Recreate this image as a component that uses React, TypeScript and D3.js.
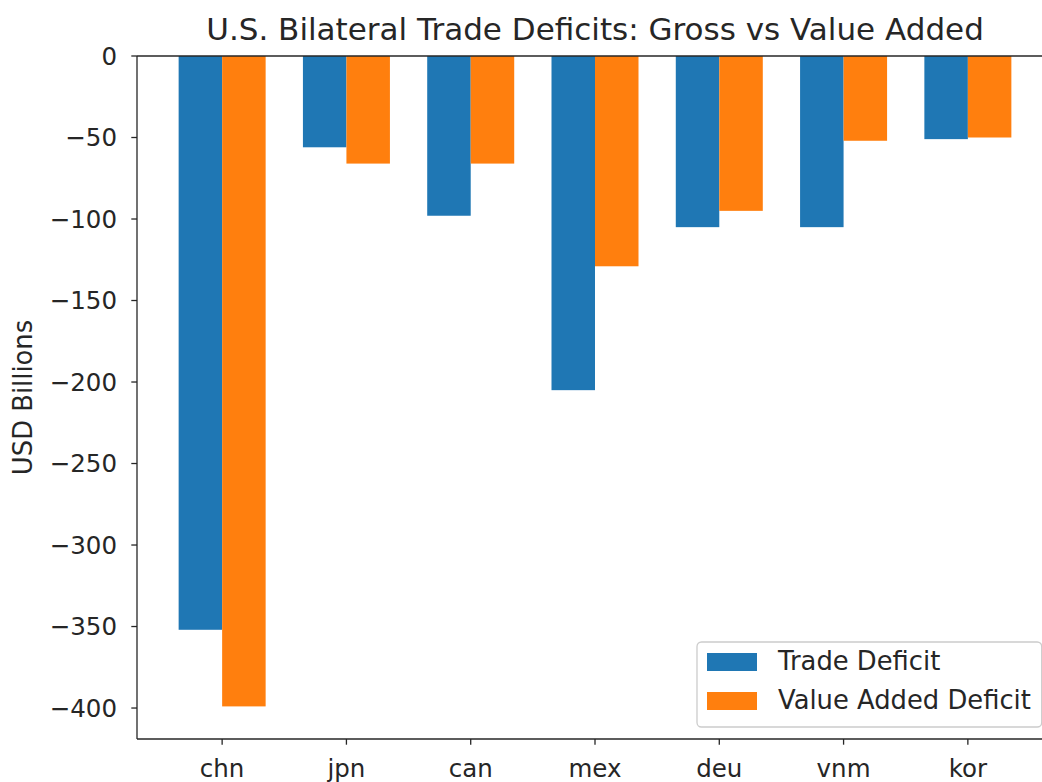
import React from "react";
import * as d3 from "d3";

const countries = ["chn", "jpn", "can", "mex", "deu", "vnm", "kor"];
const tradeDeficit = [-352, -56, -98, -205, -105, -105, -51];
const valueAddedDeficit = [-399, -66, -66, -129, -95, -52, -50];
const yTicks = [0, -50, -100, -150, -200, -250, -300, -350, -400];
const seriesNames = ["Trade Deficit", "Value Added Deficit"];
const seriesColors = ["#1f77b4", "#ff7f0e"];

const W = 1042;
const H = 782;
const left = 137;
const right = 1053;
const top = 56;
const bottom = 739;
const font = "'DejaVu Sans', sans-serif";
const fs = 25.8;
const tickFs = 24.5;
const titleFs = 31;
const ink = "#262626";
const barWidth = 0.35;

const fmt = (v: number) => (v < 0 ? "\u2212" + Math.abs(v) : String(v));

export default function App() {
  const n = countries.length;
  const pad = (n - 1 + 2 * barWidth) * 0.05 + barWidth;
  const x = d3.scaleLinear().domain([-pad, n - 1 + pad]).range([left, right]);
  const y = d3.scaleLinear().domain([-419, 0]).range([bottom, top]);
  const bw = x(barWidth) - x(0);
  const series = [tradeDeficit, valueAddedDeficit];

  const legX = 697;
  const legY = 642;
  const legW = right - 11.3 - legX;
  const legH = bottom - 12 - legY;

  return (
    <svg width={W} height={H} style={{ position: "absolute", left: 0, top: 0 }} fontFamily={font}>
      <rect width={W} height={H} fill="#fff" />
      {series.map((vals, s) =>
        vals.map((v, i) => {
          const cx = x(i) + (s === 0 ? -bw / 2 : bw / 2);
          return (
            <rect
              key={`${s}-${i}`}
              x={cx - bw / 2}
              y={y(0)}
              width={bw}
              height={y(v) - y(0)}
              fill={seriesColors[s]}
            />
          );
        })
      )}
      {/* spines */}
      <g stroke={ink} strokeWidth={1.3} fill="none">
        <line x1={left} x2={left} y1={top} y2={bottom} />
        <line x1={left} x2={right} y1={bottom} y2={bottom} />
        <line x1={left} x2={right} y1={top} y2={top} />
        <line x1={right} x2={right} y1={top} y2={bottom} />
      </g>
      {/* y axis */}
      {yTicks.map((t) => (
        <g key={t} transform={`translate(0,${y(t)})`}>
          <line x1={left - 5.7} x2={left} stroke={ink} strokeWidth={1.3} />
          <text x={left - 20} dy="0.36em" textAnchor="end" fontSize={tickFs} fill={ink}>
            {fmt(t)}
          </text>
        </g>
      ))}
      {/* x axis */}
      {countries.map((c, i) => (
        <g key={c} transform={`translate(${x(i)},${bottom})`}>
          <line y1={0} y2={5.7} stroke={ink} strokeWidth={1.3} />
          <text y={38} textAnchor="middle" fontSize={tickFs} fill={ink}>
            {c}
          </text>
        </g>
      ))}
      <text
        transform={`translate(${32},${(top + bottom) / 2}) rotate(-90)`}
        textAnchor="middle"
        fontSize={fs}
        fill={ink}
      >
        USD Billions
      </text>
      <text x={(left + right) / 2} y={40} textAnchor="middle" fontSize={titleFs} fill={ink}>
        U.S. Bilateral Trade Deficits: Gross vs Value Added
      </text>
      {/* legend */}
      <rect
        x={legX}
        y={legY}
        width={legW}
        height={legH}
        rx={4.5}
        fill="#fff"
        fillOpacity={0.8}
        stroke="#cccccc"
        strokeWidth={1.3}
      />
      {seriesNames.map((name, s) => {
        const rowY = 662 + s * 39;
        return (
          <g key={name}>
            <rect x={707} y={rowY - 9} width={50} height={18} fill={seriesColors[s]} />
            <text x={778} y={rowY + 8} fontSize={fs} fill={ink}>
              {name}
            </text>
          </g>
        );
      })}
    </svg>
  );
}
